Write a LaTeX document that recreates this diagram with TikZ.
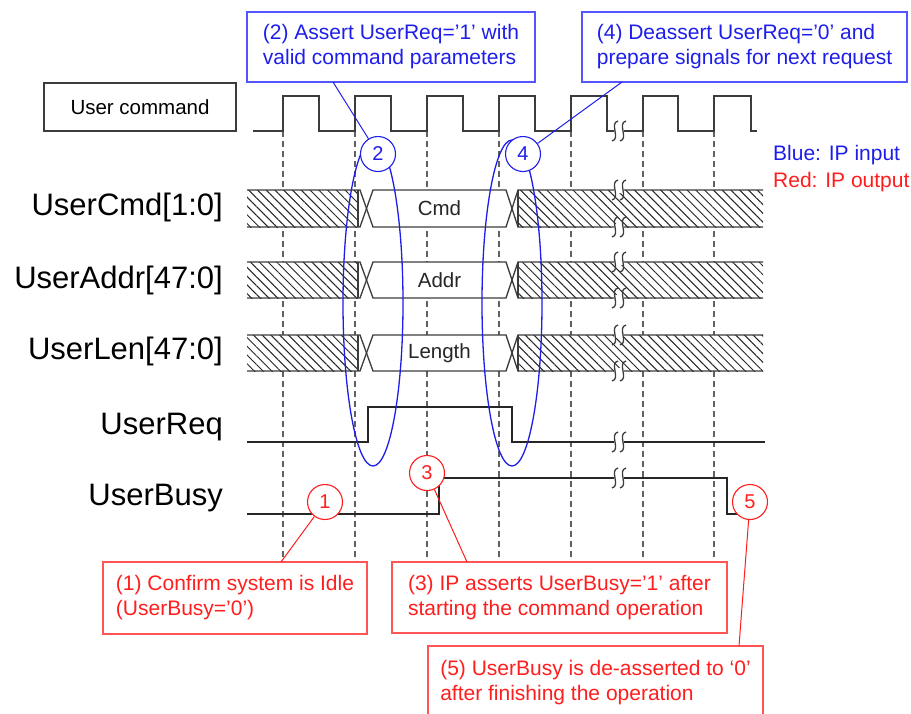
\documentclass[tikz,border=0pt]{standalone}
\usepackage{fontspec}
\setmainfont{Liberation Sans}
\usetikzlibrary{patterns.meta}
\definecolor{myblue}{RGB}{30,30,235}
\definecolor{boxblue}{RGB}{85,85,255}
\definecolor{myred}{RGB}{255,30,30}
\definecolor{boxred}{RGB}{255,85,85}
\definecolor{sigc}{RGB}{60,60,60}
\tikzset{
  wire/.style={draw=black!85, line width=1.3pt},
  clk/.style={draw=sigc, line width=1.5pt},
  bus/.style={draw=sigc, line width=1.3pt},
  gridline/.style={draw=black!62, line width=1.2pt, dash pattern=on 6pt off 4pt},
  hatch/.style={pattern={Lines[angle=-45,distance=6.2pt,line width=1pt]}, pattern color=black!85},
  bcirc/.style={circle, draw=myblue, fill=white, line width=1.1pt, minimum size=35pt, inner sep=0pt, text=myblue, font=\fontsize{20}{24}\selectfont},
  rcirc/.style={circle, draw=myred, fill=white, line width=1.1pt, minimum size=35pt, inner sep=0pt, text=myred, font=\fontsize{20}{24}\selectfont},
  bbox/.style={draw=boxblue, fill=white, line width=1.2pt, align=left, text=myblue, font=\fontsize{21}{25}\selectfont, inner sep=0pt},
  rbox/.style={draw=boxred, fill=white, line width=1.2pt, align=left, text=myred, font=\fontsize{21}{25}\selectfont, inner sep=0pt},
  bline/.style={draw=myblue, line width=1pt},
  rline/.style={draw=myred, line width=1pt},
  ell/.style={draw=myblue, line width=1.3pt},
  siglabel/.style={anchor=base east, inner sep=0pt, font=\fontsize{31}{36}\selectfont},
  datalbl/.style={inner sep=0pt, text=black!85, font=\fontsize{20.5}{24}\selectfont},
  brkmark/.pic={
    \fill[white] (-5,-2.6) rectangle (5,2.6);
    \draw[sigc, line width=1.3pt] (-1,-10) .. controls (-10,-8) and (2,8) .. (-7,10);
    \draw[sigc, line width=1.3pt] (7,-10) .. controls (-2,-8) and (10,8) .. (1,10);
  }
}
\begin{document}
\begin{tikzpicture}[x=1pt,y=-1pt]
\useasboundingbox (0,0) rectangle (911,713);
\clip (0,0) rectangle (911,713);
\fill[white] (0,0) rectangle (911,713);

% dashed grid lines
\foreach \gx in {283,355,427,499,571,643,714}{
  \draw[gridline] (\gx,131) -- (\gx,562);
}

% clock
\draw[clk] (253,131) -- (283,131) -- (283,96) -- (319,96) -- (319,131) -- (355,131) -- (355,96) -- (391,96) -- (391,131)
  -- (427,131) -- (427,96) -- (463,96) -- (463,131) -- (499,131) -- (499,96) -- (535,96) -- (535,131)
  -- (571,131) -- (571,96) -- (607,96) -- (607,131) -- (643,131) -- (643,96) -- (678,96) -- (678,131)
  -- (714,131) -- (714,96) -- (751,96) -- (751,131) -- (757,131);
\pic at (619,131) {brkmark};

% buses
\foreach \t/\b/\lab in {190/227/Cmd, 262/298/Addr, 335/371/Length}{
  \fill[white] (247,\t) rectangle (763,\b);
  \fill[hatch] (247,\t) rectangle (358,\b);
  \fill[hatch] (518,\t) rectangle (763,\b);
  \draw[bus] (247,\t) -- (360,\t) -- (373,\b) -- (506,\b) -- (518,\t) -- (763,\t);
  \draw[bus] (247,\b) -- (360,\b) -- (373,\t) -- (506,\t) -- (518,\b) -- (763,\b);
  \draw[bus] (358,\t) -- (358,\b);
  \draw[bus] (518,\t) -- (518,\b);
  \node[datalbl] (d\lab) at (439.5,{(\t+\b)/2}) {\lab};
  \pic at (619,\t) {brkmark};
  \pic at (619,\b) {brkmark};
}

% signal labels
\node[siglabel] (lcmd) at (223,215) {UserCmd[1:0]};
\node[siglabel] (laddr) at (223,288) {UserAddr[47:0]};
\node[siglabel] (llen) at (223,359) {UserLen[47:0]};
\node[siglabel] (lreq) at (223,434) {UserReq};
\node[siglabel] (lbusy) at (223,505) {UserBusy};

% UserReq and UserBusy
\draw[wire] (247,442) -- (368,442) -- (368,407) -- (512,407) -- (512,442) -- (765,442);
\pic at (619,442) {brkmark};
\draw[wire] (247,514) -- (439,514) -- (439,478) -- (727,478) -- (727,514) -- (742,514);
\pic at (619,478) {brkmark};

% user command box
\node[draw=sigc, line width=1.3pt, minimum width=192pt, minimum height=48pt, inner sep=0pt, font=\fontsize{20.5}{24}\selectfont] (ucmd) at (140,107) {User command};

% legend
\node[anchor=base west, inner sep=0pt, text=myblue, font=\fontsize{21}{25}\selectfont] (leg1) at (773,160) {Blue: IP input};
\node[anchor=base west, inner sep=0pt, text=myred, font=\fontsize{21}{25}\selectfont] (leg2) at (773,187) {Red: IP output};

% ellipses
\draw[ell] (373,303) ellipse [x radius=30pt, y radius=163pt];
\draw[ell] (512,303) ellipse [x radius=30pt, y radius=163pt];

% circles
\node[bcirc] (c2) at (378,154) {2};
\node[bcirc] (c4) at (523,154) {4};
\node[rcirc] (c1) at (325,502) {1};
\node[rcirc] (c3) at (427,473) {3};
\node[rcirc] (c5) at (750,502) {5};

% annotation boxes
\node[bbox, minimum width=288pt, minimum height=70pt] (b2) at (391,47) {(2) Assert UserReq=’1’ with\\valid command parameters};
\node[bbox, minimum width=325pt, minimum height=70pt] (b4) at (744.5,47) {(4) Deassert UserReq=’0’ and\\prepare signals for next request};
\node[rbox, minimum width=264pt, minimum height=72pt] (b1) at (235,598) {(1) Confirm system is Idle\\(UserBusy=’0’)};
\node[rbox, minimum width=335pt, minimum height=71pt] (b3) at (559.5,597.5) {(3) IP asserts UserBusy=’1’ after\\starting the command operation};
\node[rbox, minimum width=335pt, minimum height=74pt] (b5) at (595.5,683) {(5) UserBusy is de-asserted to ‘0’\\after finishing the operation};

% connectors
\coordinate (k1) at (281,562);
\coordinate (k2) at (333,82);
\coordinate (k3) at (467,562);
\coordinate (k4) at (622,82);
\coordinate (k5) at (739,646);
\draw[rline] (c1) -- (k1);
\draw[rline] (c3) -- (k3);
\draw[rline] (c5) -- (k5);
\draw[bline] (c2) -- (k2);
\draw[bline] (c4) -- (k4);
\end{tikzpicture}
\end{document}
